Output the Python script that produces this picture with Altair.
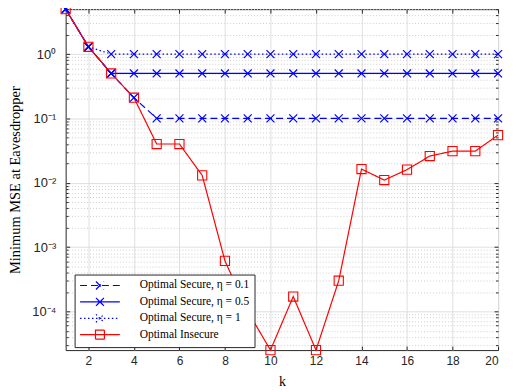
import altair as alt
import pandas as pd

# ---------------- data ----------------
k = [1, 2, 3, 4, 5, 6, 7, 8, 9, 10, 11, 12, 13, 14, 15, 16, 17, 18, 19, 20]
series_names = [
    "Optimal Secure, η = 0.1",
    "Optimal Secure, η = 0.5",
    "Optimal Secure, η = 1",
    "Optimal Insecure",
]
secure_eta01 = [5, 1.3, 0.5, 0.21, 0.1, 0.1, 0.1, 0.1, 0.1, 0.1,
                0.1, 0.1, 0.1, 0.1, 0.1, 0.1, 0.1, 0.1, 0.1, 0.1]
secure_eta05 = [5, 1.3, 0.5, 0.5, 0.5, 0.5, 0.5, 0.5, 0.5, 0.5,
                0.5, 0.5, 0.5, 0.5, 0.5, 0.5, 0.5, 0.5, 0.5, 0.5]
secure_eta1 = [5, 1.3, 1, 1, 1, 1, 1, 1, 1, 1,
               1, 1, 1, 1, 1, 1, 1, 1, 1, 1]
insecure = [5, 1.3, 0.5, 0.21, 0.04, 0.04, 0.013, 0.00061, 0.0001, 0.000025,
            0.00017, 0.000025, 0.0003, 0.0163, 0.011, 0.016, 0.026, 0.031, 0.031, 0.055]

x_ticks = [2, 4, 6, 8, 10, 12, 14, 16, 18, 20]
y_major = [0.0001, 0.001, 0.01, 0.1, 1.0]
y_major_labels = ["10⁻⁴", "10⁻³", "10⁻²", "10⁻¹", "10⁰"]
y_minor = [0.00003, 0.00004, 0.00005, 0.00006, 0.00007, 0.00008, 0.00009,
           0.0002, 0.0003, 0.0004, 0.0005, 0.0006, 0.0007, 0.0008, 0.0009,
           0.002, 0.003, 0.004, 0.005, 0.006, 0.007, 0.008, 0.009,
           0.02, 0.03, 0.04, 0.05, 0.06, 0.07, 0.08, 0.09,
           0.2, 0.3, 0.4, 0.5, 0.6, 0.7, 0.8, 0.9,
           2.0, 3.0, 4.0, 5.0]

rows = []
for name, vals in zip(series_names, [secure_eta01, secure_eta05, secure_eta1, insecure]):
    for kk, v in zip(k, vals):
        rows.append({"k": kk, "mse": v, "series": name})
df = pd.DataFrame(rows)

# ---------------- styles ----------------
BLUE = "#0000ff"
RED = "#ff0000"
color_scale = alt.Scale(domain=series_names, range=[BLUE, BLUE, BLUE, RED])
dash_scale = alt.Scale(domain=series_names, range=[[7, 4], [1, 0], [1.5, 2.5], [1, 0]])
LEG_X = "M-4,0H4M-0.8,-0.8L0.8,0.8M-0.8,0.8L0.8,-0.8"
LEG_SQ = "M-4,0H4M-0.9,-0.9H0.9V0.9H-0.9Z"
shape_scale = alt.Scale(domain=series_names, range=[LEG_X, LEG_X, LEG_X, LEG_SQ])

legend = alt.Legend(
    title=None, orient="none", legendX=9, legendY=267, direction="vertical",
    fillColor="white", strokeColor="#262626", padding=5, cornerRadius=0,
    labelFont="Liberation Serif", labelFontSize=11.5, labelColor="black", labelLimit=400,
    labelAlign="left",
    symbolSize=100, symbolStrokeWidth=1.2, symbolOffset=14.5, labelOffset=34, rowPadding=2.5,
)

x_scale = alt.Scale(domain=[1, 20], nice=False, zero=False)
y_scale = alt.Scale(type="log", domain=[0.000025, 5], nice=False)

label_expr = " : ".join(
    f"datum.value == {repr(float(v))} ? '{lab}'" for v, lab in zip(y_major, y_major_labels)
) + " : ''"

major_test = "indexof([" + ",".join(repr(float(v)) for v in y_major) + "], datum.value) >= 0"

# axes
ax_x_bottom = alt.Axis(orient="bottom", values=x_ticks, grid=False, ticks=True, tickSize=4,
                       offset=-4, labelPadding=5, title="k", titleFont="Liberation Serif",
                       titleFontSize=14, titleColor="black", titlePadding=9)
ax_x_grid = alt.Axis(orient="bottom", values=x_ticks, grid=True, gridColor="#e0e0e0",
                     gridWidth=1, ticks=False, labels=False, title=None)
ax_x_top = alt.Axis(orient="top", values=x_ticks, grid=False, ticks=True, tickSize=4,
                    offset=-4, labels=False, title=None)

ax_y_grid = alt.Axis(orient="left", values=y_major + y_minor, grid=True,
                     gridColor={"condition": {"test": major_test, "value": "#dcdcdc"}, "value": "#cfcfcf"},
                     gridDash={"condition": {"test": major_test, "value": [1, 0]}, "value": [1, 2]},
                     gridWidth=1, ticks=False, labels=False, title=None)
ax_y_left = alt.Axis(orient="left", values=y_major, grid=False, ticks=True, tickSize=4, offset=-4,
                     labelPadding=10, labelExpr=label_expr, labelFontSize=13,
                     title="Minimum MSE at Eavesdropper",
                     titleFont="Liberation Serif", titleFontSize=14.5, titleColor="black",
                     titlePadding=9)
ax_y_left_minor = alt.Axis(orient="left", values=y_minor, grid=False, ticks=True, tickSize=2.5,
                           offset=-2.5, labels=False, title=None)
ax_y_right = alt.Axis(orient="right", values=y_major, grid=False, ticks=True, tickSize=4,
                      offset=-4, labels=False, title=None)
ax_y_right_minor = alt.Axis(orient="right", values=y_minor, grid=False, ticks=True, tickSize=2.5,
                            offset=-2.5, labels=False, title=None)

base = alt.Chart(df)

# grid + lines
lines = base.mark_line(strokeWidth=1.2).encode(
    x=alt.X("k:Q", scale=x_scale, axis=ax_x_bottom),
    y=alt.Y("mse:Q", scale=y_scale, axis=ax_y_grid),
    color=alt.Color("series:N", scale=color_scale, legend=legend),
    strokeDash=alt.StrokeDash("series:N", scale=dash_scale, legend=legend),
    detail="series:N",
)

# legend carrier + top/right ticks (no data drawn)
legend_layer = base.transform_filter("false").mark_point(filled=False, opacity=1, strokeWidth=1.2).encode(
    x=alt.X("k:Q", scale=x_scale, axis=ax_x_top),
    y=alt.Y("mse:Q", scale=y_scale, axis=ax_y_right),
    color=alt.Color("series:N", scale=color_scale, legend=legend),
    strokeDash=alt.StrokeDash("series:N", scale=dash_scale, legend=legend),
    shape=alt.Shape("series:N", scale=shape_scale, legend=legend),
)

cross_markers = base.transform_filter(
    alt.FieldOneOfPredicate(field="series", oneOf=series_names[:3])
).mark_point(filled=False, opacity=1, strokeWidth=1.2, size=64,
             shape="M-1,-1L1,1M-1,1L1,-1", color=BLUE).encode(
    x=alt.X("k:Q", scale=x_scale, axis=ax_x_grid),
    y=alt.Y("mse:Q", scale=y_scale, axis=ax_y_left),
)

square_markers = base.transform_filter(
    alt.FieldEqualPredicate(field="series", equal=series_names[3])
).mark_point(filled=False, opacity=1, strokeWidth=1.1, size=85,
             shape="M-1,-1H1V1H-1Z", color=RED).encode(
    x=alt.X("k:Q", scale=x_scale, axis=None),
    y=alt.Y("mse:Q", scale=y_scale, axis=ax_y_left_minor),
)

minor_right = base.transform_filter("false").mark_point(opacity=1).encode(
    x=alt.X("k:Q", scale=x_scale, axis=None),
    y=alt.Y("mse:Q", scale=y_scale, axis=ax_y_right_minor),
)

chart = alt.layer(lines, legend_layer, cross_markers, square_markers, minor_right).resolve_axis(
    x="independent", y="independent"
).properties(
    width=435, height=343,
    padding={"left": 58, "top": 0, "right": 8, "bottom": 40},
    autosize=alt.AutoSizeParams(type="none"),
    background="white",
).configure_axis(
    labelFont="Liberation Sans", labelFontSize=12, labelColor="#262626",
    tickColor="#262626", tickWidth=1, domain=False, titleFontWeight="normal",
).configure_view(stroke="#262626", strokeWidth=1)

chart.save("out.html", embed_options={"renderer": "svg", "actions": False})
